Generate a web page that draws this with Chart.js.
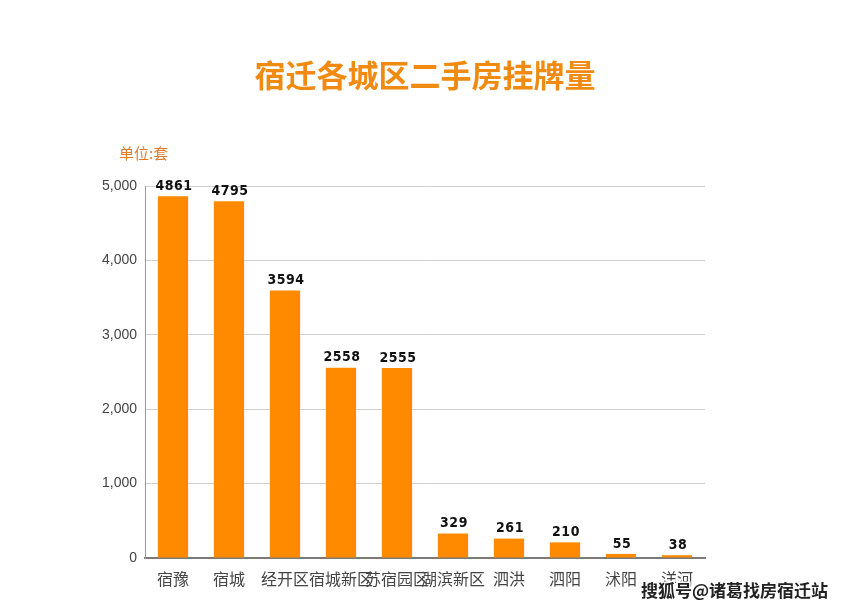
<!DOCTYPE html>
<html>
<head>
<meta charset="utf-8">
<script src="https://cdn.jsdelivr.net/npm/chart.js@4"></script>
<style>
  html, body { margin: 0; padding: 0; background: #fff; }
  #wrap { width: 850px; height: 610px; }
</style>
</head>
<body>
<div id="wrap"><canvas id="chart" width="850" height="610"></canvas></div>
<script>
// districts and listing counts
const districts = ['宿豫', '宿城', '经开区', '宿城新区', '苏宿园区', '湖滨新区', '泗洪', '泗阳', '沭阳', '洋河'];
const listings = [4861, 4795, 3594, 2558, 2555, 329, 261, 210, 55, 38];
const yTicks = [0, 1000, 2000, 3000, 4000, 5000];

const CN_FONT = '"Noto Sans CJK SC", "Microsoft YaHei", sans-serif';
const barColor = '#FF8A00';

// draws title, unit label, value labels and the source stamp
const decorations = {
    id: 'decorations',
    afterDatasetsDraw(chart) {
        const ctx = chart.ctx;
        ctx.save();

        // title
        ctx.fillStyle = '#F08A10';
        ctx.font = 'bold 31px ' + CN_FONT;
        ctx.textAlign = 'center';
        ctx.textBaseline = 'middle';
        ctx.fillText('宿迁各城区二手房挂牌量', 425, 75);

        // unit
        ctx.fillStyle = '#E07B2A';
        ctx.font = '15px ' + CN_FONT;
        ctx.textAlign = 'left';
        ctx.fillText('单位:套', 119, 153);

        // value labels above each bar
        const meta = chart.getDatasetMeta(0);
        ctx.fillStyle = '#111';
        ctx.font = 'bold 14px "DejaVu Sans Condensed", "Liberation Sans", sans-serif';
        ctx.letterSpacing = '0.5px';
        ctx.textAlign = 'center';
        ctx.textBaseline = 'bottom';
        meta.data.forEach((bar, i) => {
            ctx.fillText(String(listings[i]), bar.x + 1, bar.y - 3);
        });
        ctx.letterSpacing = '0px';

        // source stamp, bottom right
        ctx.font = 'bold 17px ' + CN_FONT;
        ctx.textAlign = 'left';
        ctx.textBaseline = 'middle';
        ctx.lineWidth = 3;
        ctx.strokeStyle = '#fff';
        ctx.strokeText('搜狐号@诸葛找房宿迁站', 641, 591);
        ctx.fillStyle = '#222';
        ctx.fillText('搜狐号@诸葛找房宿迁站', 641, 591);

        ctx.restore();
    }
};

const config = {
    type: 'bar',
    data: {
        labels: districts,
        datasets: [{
            data: listings,
            backgroundColor: barColor,
            borderWidth: 0,
            categoryPercentage: 1,
            barPercentage: 0.54
        }]
    },
    options: {
        responsive: false,
        animation: false,
        layout: { padding: { top: 186, right: 145, left: 0, bottom: 0 } },
        plugins: {
            legend: { display: false },
            tooltip: { enabled: false }
        },
        scales: {
            x: {
                grid: { display: false, drawTicks: false },
                border: { color: '#7a7a7a', width: 2 },
                ticks: {
                    color: '#444',
                    font: { size: 16, family: CN_FONT },
                    padding: 11,
                    maxRotation: 0,
                    autoSkip: false
                },
                afterFit(scale) { scale.height = 52; }
            },
            y: {
                min: 0,
                max: 5000,
                afterBuildTicks(scale) {
                    scale.ticks = yTicks.map(v => ({ value: v }));
                },
                grid: { color: '#cfcfcf', lineWidth: 1, drawTicks: false },
                border: { color: '#9a9a9a', width: 1 },
                ticks: {
                    color: '#444',
                    font: { size: 14, family: '"Liberation Sans", Arial, sans-serif' },
                    padding: 8
                },
                afterFit(scale) { scale.width = 145; }
            }
        }
    },
    plugins: [decorations]
};

new Chart(document.getElementById('chart').getContext('2d'), config);
</script>
</body>
</html>
